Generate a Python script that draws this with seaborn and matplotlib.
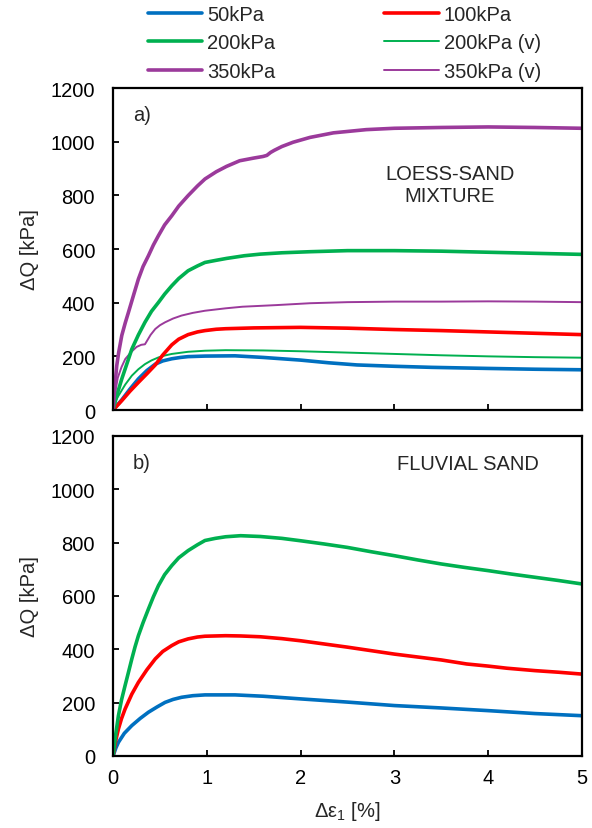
import numpy as np
import pandas as pd
import matplotlib
matplotlib.use("Agg")
import matplotlib.pyplot as plt
import seaborn as sns
from matplotlib.lines import Line2D

sns.set_theme(style="white")
plt.rcParams['font.family'] = ['Liberation Sans', 'DejaVu Sans']
plt.rcParams['mathtext.fontset'] = 'custom'
plt.rcParams['mathtext.rm'] = 'Liberation Sans'
plt.rcParams['mathtext.it'] = 'Liberation Sans'

# ---------------- data: (a) loess-sand mixture ----------------
a50_x = [0, 0.093, 0.18, 0.27, 0.36, 0.45, 0.53, 0.626, 0.72, 0.8, 0.98, 1.3, 1.6, 2.0, 2.3, 2.6, 3.0, 3.4, 4.0, 4.5, 5.0]
a50_y = [0, 38, 78, 116, 147, 171, 183, 191, 196, 199, 201, 202, 196, 186, 176, 168, 163, 159, 155, 152, 150]

a100_x = [0, 0.093, 0.18, 0.27, 0.36, 0.45, 0.53, 0.626, 0.7, 0.8, 0.9, 0.98, 1.1, 1.2, 1.5, 2.0, 2.5, 3.0, 3.5, 4.0, 4.5, 5.0]
a100_y = [0, 35, 70, 103, 135, 168, 205, 243, 264, 281, 291, 296, 301, 303, 306, 308, 305, 300, 296, 291, 286, 281]

a200_x = [0, 0.04, 0.093, 0.15, 0.2, 0.27, 0.34, 0.41, 0.484, 0.55, 0.626, 0.7, 0.8, 0.9, 0.98, 1.1, 1.21, 1.4,
          1.57, 1.8, 2.1, 2.5, 3.0, 3.5, 4.0, 4.5, 5.0]
a200_y = [0, 55, 116, 175, 227, 280, 327, 368, 401, 432, 463, 490, 519, 537, 550, 558, 565, 575,
          581, 586, 590, 594, 594, 592, 588, 584, 580]

a200v_x = [0, 0.03, 0.057, 0.13, 0.2, 0.27, 0.34, 0.41, 0.484, 0.55, 0.626, 0.8, 0.98, 1.2, 1.6, 2.0, 2.5, 3.0,
           3.5, 4.0, 4.5, 5.0]
a200v_y = [0, 35, 53, 95, 128, 152, 171, 185, 196, 203, 209, 217, 221, 223, 222, 219, 214, 209,
           204, 200, 197, 195]

a350_x = [0, 0.02, 0.039, 0.06, 0.093, 0.13, 0.164, 0.22, 0.27, 0.32, 0.377, 0.43, 0.484, 0.55, 0.626, 0.7,
          0.8, 0.9, 0.98, 1.1, 1.21, 1.35, 1.5, 1.6, 1.64, 1.68, 1.72, 1.8, 1.92, 2.1, 2.35, 2.7, 3.0, 3.5,
          4.0, 4.5, 5.0]
a350_y = [0, 90, 165, 215, 278, 325, 364, 430, 488, 535, 575, 615, 650, 690, 724, 760,
          799, 835, 861, 888, 908, 929, 939, 945, 949, 960, 968, 982, 998, 1016, 1033, 1045, 1050, 1053,
          1055, 1053, 1050]

a350v_x = [0, 0.03, 0.05, 0.09, 0.13, 0.19, 0.25, 0.3, 0.34, 0.4, 0.45, 0.5, 0.555, 0.64, 0.73, 0.85, 0.98,
           1.2, 1.38, 1.74, 2.1, 2.5, 3.0, 3.5, 4.0, 4.5, 5.0]
a350v_y = [0, 80, 120, 160, 190, 215, 235, 243, 245, 280, 302, 316, 327, 341, 352, 362, 370,
           379, 385, 391, 398, 402, 404, 404, 405, 404, 402]

# ---------------- data: (b) fluvial sand ----------------
b50_x = [0, 0.03, 0.057, 0.12, 0.2, 0.29, 0.377, 0.47, 0.555, 0.64, 0.73, 0.85, 0.98, 1.3, 1.6, 2.0, 2.5,
         3.0, 3.5, 4.0, 4.5, 5.0]
b50_y = [0, 30, 51, 85, 114, 141, 164, 184, 201, 212, 220, 226, 229, 229, 224, 214, 202,
         189, 180, 170, 159, 151]

b100_x = [0, 0.03, 0.057, 0.09, 0.128, 0.2, 0.27, 0.36, 0.45, 0.53, 0.626, 0.7, 0.8, 0.9, 0.98, 1.2, 1.36,
          1.57, 1.8, 2.0, 2.25, 2.5, 2.75, 3.0, 3.25, 3.5, 3.77, 4.0, 4.2, 4.5, 4.75, 5.0]
b100_y = [0, 60, 101, 140, 176, 232, 276, 323, 364, 392, 414, 428, 439, 446, 449, 451, 450,
          447, 440, 432, 420, 408, 395, 382, 371, 360, 345, 337, 329, 320, 314, 307]

b200_x = [0, 0.03, 0.057, 0.09, 0.128, 0.165, 0.2, 0.235, 0.27, 0.32, 0.377, 0.43, 0.484, 0.55, 0.626, 0.7,
          0.8, 0.9, 0.98, 1.09, 1.2, 1.36, 1.57, 1.8, 2.0, 2.25, 2.5, 2.75, 3.0, 3.25, 3.5, 3.75, 4.0,
          4.25, 4.5, 4.75, 5.0]
b200_y = [0, 85, 151, 210, 264, 315, 364, 410, 451, 500, 551, 597, 639, 680, 714, 743,
          770, 792, 808, 816, 822, 826, 823, 816, 807, 795, 782, 766, 751, 735, 720, 707, 695,
          682, 670, 658, 645]

x_ticks = [0, 1, 2, 3, 4, 5]
y_ticks = [0, 200, 400, 600, 800, 1000, 1200]

BLUE = '#0070C0'
RED = '#FF0000'
GREEN = '#00B050'
PURPLE = '#9B3A9B'
THICK = 2.6
THIN = 1.4
FS = 14.5

fig = plt.figure(figsize=(5.92, 8.29), dpi=100)
ax1 = fig.add_axes([0.191, 0.5042, 0.792, 0.3884])
ax2 = fig.add_axes([0.191, 0.0869, 0.792, 0.3860])

def draw(ax, xs, ys, color, lw, label):
    df = pd.DataFrame({'x': xs, 'y': ys})
    sns.lineplot(data=df, x='x', y='y', ax=ax, color=color, linewidth=lw, label=label,
                 sort=False, estimator=None, legend=False,
                 solid_joinstyle='round', solid_capstyle='butt')

draw(ax1, a50_x, a50_y, BLUE, THICK, '50kPa')
draw(ax1, a200v_x, a200v_y, GREEN, THIN, '200kPa (v)')
draw(ax1, a350v_x, a350v_y, PURPLE, THIN, '350kPa (v)')
draw(ax1, a100_x, a100_y, RED, THICK, '100kPa')
draw(ax1, a200_x, a200_y, GREEN, THICK, '200kPa')
draw(ax1, a350_x, a350_y, PURPLE, THICK, '350kPa')

draw(ax2, b50_x, b50_y, BLUE, THICK, '50kPa')
draw(ax2, b100_x, b100_y, RED, THICK, '100kPa')
draw(ax2, b200_x, b200_y, GREEN, THICK, '200kPa')

for ax in (ax1, ax2):
    ax.set_xlim(0, 5)
    ax.set_ylim(0, 1200)
    ax.set_xticks(x_ticks)
    ax.set_yticks(y_ticks)
    ax.tick_params(axis='both', direction='in', length=4, width=1.3, labelsize=FS,
                   colors='black', left=True, bottom=True)
    ax.tick_params(axis='y', pad=13)
    ax.tick_params(axis='x', pad=9)
    for s in ax.spines.values():
        s.set_color('black')
        s.set_linewidth(1.6)
    ax.set_ylabel('ΔQ [kPa]', fontsize=FS, labelpad=8)
    ax.set_facecolor('white')

ax1.tick_params(axis='x', labelbottom=False)
ax1.set_xlabel('')
ax2.set_xlabel('Δε$_1$ [%]', fontsize=FS, labelpad=8)

ax1.text(0.213, 1100, 'a)', fontsize=FS, va='center', ha='left')
ax1.text(3.59, 839, 'LOESS-SAND\nMIXTURE', fontsize=FS, va='center', ha='center', linespacing=1.2)
ax2.text(0.213, 1102, 'b)', fontsize=FS, va='center', ha='left')
ax2.text(3.78, 1095, 'FLUVIAL SAND', fontsize=FS, va='center', ha='center')

# legend
order = [('50kPa', BLUE, THICK), ('200kPa', GREEN, THICK), ('350kPa', PURPLE, THICK),
         ('100kPa', RED, THICK), ('200kPa (v)', GREEN, THIN), ('350kPa (v)', PURPLE, THIN)]
handles = [Line2D([], [], color=c, linewidth=lw) for _, c, lw in order]
labels = [l for l, _, _ in order]
fig.legend(handles, labels, loc='upper left', bbox_to_anchor=(148 / 592, 0.9925), ncol=2,
           frameon=False, fontsize=FS, handlelength=2.7, handletextpad=0.25,
           columnspacing=5.4, labelspacing=0.46, borderpad=0, borderaxespad=0)

fig.savefig('out.png', dpi=100, facecolor='white')
